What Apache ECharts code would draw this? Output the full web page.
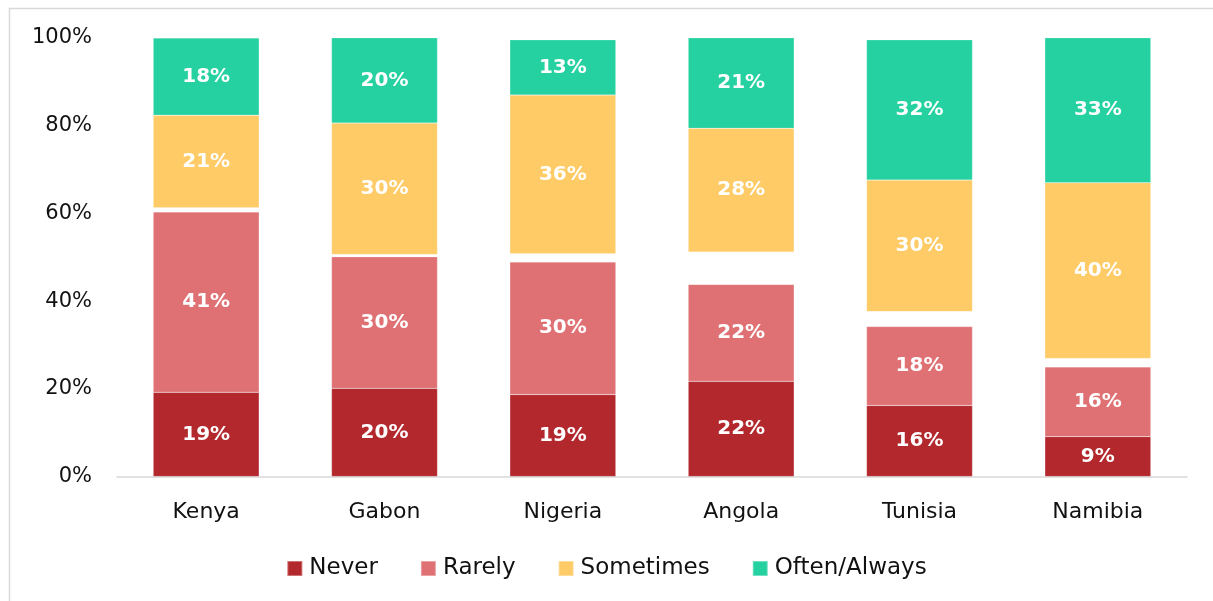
<!DOCTYPE html>
<html>
<head>
<meta charset="utf-8">
<script src="https://cdn.jsdelivr.net/npm/echarts@6/dist/echarts.min.js"></script>
<style>
    html, body { margin: 0; padding: 0; background: #fff; }
    #chart { width: 1213px; height: 601px; }
</style>
</head>
<body>
<div id="chart"></div>
<script>
const countries = ['Kenya', 'Gabon', 'Nigeria', 'Angola', 'Tunisia', 'Namibia'];
const never = [19.2, 20.1, 18.7, 21.7, 16.2, 9.1];
const rarely = [41.1, 30.0, 30.2, 22.1, 18.0, 15.9];
// unlabelled remainder between Rarely and Sometimes (drawn as white gap)
const gap = [1.0, 0.5, 1.9, 7.4, 3.4, 1.9];
const sometimes = [21.1, 30.0, 36.2, 28.2, 30.0, 40.1];
const often = [17.6, 19.6, 12.6, 21.0, 32.0, 33.4];
const yTicks = [0, 20, 40, 60, 80, 100];

const font = '"DejaVu Sans", sans-serif';
const chart = echarts.init(document.getElementById('chart'));

const label = {
    show: true,
    color: '#fff',
    fontFamily: font,
    fontWeight: 'bold',
    fontSize: 20,
    formatter: p => Math.round(p.value) + '%'
};

const bar = (name, data, color) => ({
    name,
    type: 'bar',
    stack: 'total',
    data,
    barWidth: 106,
    itemStyle: { color, borderColor: 'rgba(255,255,255,0.35)', borderWidth: 0.5 },
    label
});

chart.setOption({
    animation: false,
    graphic: [{
        type: 'rect',
        shape: { x: 9.5, y: 8.5, width: 1230, height: 620 },
        style: { fill: 'none', stroke: '#d9d9d9', lineWidth: 1.5 },
        silent: true
    }],
    grid: { left: 117, right: 26, top: 38, bottom: 124.5 },
    legend: {
        data: ['Never', 'Rarely', 'Sometimes', 'Often/Always'],
        bottom: 16,
        left: 'center',
        icon: 'rect',
        itemWidth: 15,
        itemHeight: 15,
        itemGap: 42,
        textStyle: { fontFamily: font, fontSize: 23, color: '#111', padding: [0, 0, 0, 2] }
    },
    xAxis: {
        type: 'category',
        data: countries,
        axisTick: { show: false },
        axisLine: { lineStyle: { color: '#d9d9d9', width: 1.5 } },
        axisLabel: { margin: 25, fontFamily: font, fontSize: 22, color: '#111' }
    },
    yAxis: {
        type: 'value',
        min: yTicks[0],
        max: yTicks[yTicks.length - 1],
        interval: yTicks[1] - yTicks[0],
        splitLine: { show: false },
        axisLine: { show: false },
        axisTick: { show: false },
        axisLabel: { margin: 25, fontFamily: font, fontSize: 21, color: '#111', formatter: '{value}%', padding: [4, 0, 0, 0] }
    },
    series: [
        bar('Never', never, '#B2282D'),
        bar('Rarely', rarely, '#DF7174'),
        {
            name: 'gap',
            type: 'bar',
            stack: 'total',
            data: gap,
            barWidth: 106,
            itemStyle: { color: 'rgba(0,0,0,0)' },
            label: { show: false },
            silent: true
        },
        bar('Sometimes', sometimes, '#FECB67'),
        bar('Often/Always', often, '#25D1A0')
    ]
});
</script>
</body>
</html>
